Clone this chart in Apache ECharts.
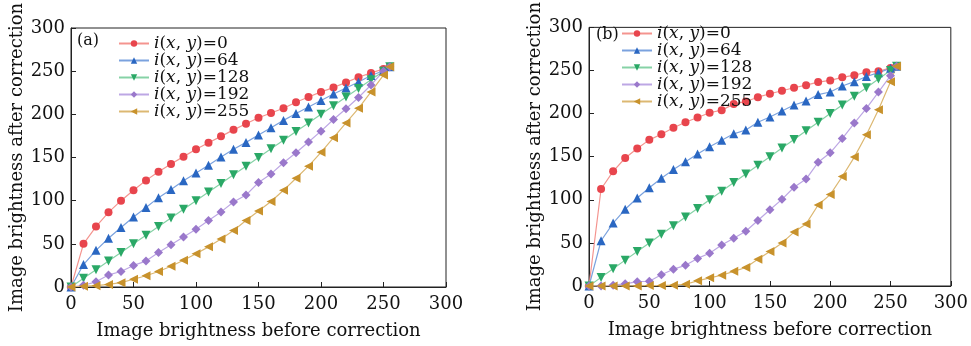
<!DOCTYPE html>
<html>
<head>
<meta charset="utf-8">
<script src="https://cdn.jsdelivr.net/npm/echarts@6/dist/echarts.min.js"></script>
<style>
  html, body { margin: 0; padding: 0; background: #fff; }
  #chart { width: 971px; height: 346px; }
</style>
</head>
<body>
<div id="chart"></div>
<script>
const xVals = [0, 10, 20, 30, 40, 50, 60, 70, 80, 90, 100, 110, 120, 130, 140, 150, 160, 170, 180, 190, 200, 210, 220, 230, 240, 250, 255]
const names = ['i(x, y)=0', 'i(x, y)=64', 'i(x, y)=128', 'i(x, y)=192', 'i(x, y)=255']

// panel (a)
const aRed = [0, 50, 70, 86.5, 100, 112, 123.5, 133.5, 142.5, 151, 159.5, 167, 174.5, 182, 189, 196, 201.5, 207, 214, 220, 226, 231, 237, 243, 248, 252.5, 255]
const aBlue = [0, 26, 42.5, 56.5, 69, 81, 92, 103.5, 113, 123, 132, 141, 150.5, 159.5, 167.5, 176, 184.5, 193, 201, 208.5, 216, 223.5, 230.5, 237.5, 245, 250.5, 255]
const aGreen = [0, 10, 20, 30, 40, 50, 60, 70, 80, 90, 100, 110, 120, 130, 140, 150, 160, 170, 180, 190, 200, 210, 220, 230, 240, 250, 255]
const aPurple = [0, 2, 6, 14, 18, 25, 30, 40, 49, 58, 67, 77, 87, 98.5, 106.5, 121, 131, 144, 155.5, 168, 180.5, 194, 206.5, 219.5, 234, 250, 255]
const aGold = [0, 1, 1.5, 3, 5, 9, 13, 18, 24, 31, 38.5, 46.5, 55.5, 65.5, 77, 88, 99, 112, 126, 140, 156, 173, 190, 207, 226, 245.5, 255]

// panel (b)
const bRed = [0, 112.5, 133, 148.5, 159.5, 169.5, 176, 183.5, 190, 195.5, 201, 204, 211, 214, 219, 223, 226.5, 230, 233, 236.5, 238.5, 242, 244.5, 248, 249, 253, 255]
const bBlue = [0, 52.5, 73, 89, 102, 114, 125, 135, 144, 153, 161.5, 169, 176.5, 181, 190, 196, 203, 210, 214.5, 222, 225, 232, 237, 243, 247.5, 252.5, 255]
const bGreen = [0, 10, 20, 30, 40, 50, 60, 70, 80, 90, 100, 110, 120, 130, 140, 150, 160, 170, 180, 190, 200, 210, 220, 230, 240, 250, 255]
const bPurple = [0, 0, 1, 2.5, 5, 5.5, 13, 19.5, 24, 32, 38, 47.5, 55.5, 63.5, 76, 88.5, 100.5, 114.5, 124, 143.5, 154.5, 171, 189, 206, 225, 244, 255]
const bGold = [0, 0, 0, 0, 0, 0.5, 0.5, 1, 2, 6, 9.5, 12.5, 17, 21.5, 31, 40, 50, 62.5, 72, 94, 106, 127, 149.5, 175.5, 204.5, 237, 255]

const markerColors = ['#e8454d', '#2a67c2', '#2aa866', '#9a78cb', '#c8922c']
const lineColors = ['#f4948f', '#7ba2de', '#86d2a6', '#bda7e4', '#dcb872']
const symbols = ['circle', 'triangle', 'triangle', 'diamond', 'triangle']
const rotates = [0, 0, 180, 0, 90]
const sizes = [8, 9, 9, 9, 9]

const font = 'DejaVu Serif'

const zip = ys => xVals.map((x, i) => [x, ys[i]])

function makeSeries(sets, idx) {
  return sets.map((ys, k) => ({
    name: names[k],
    type: 'line',
    xAxisIndex: idx,
    yAxisIndex: idx,
    data: zip(ys),
    symbol: symbols[k],
    symbolRotate: rotates[k],
    symbolSize: sizes[k],
    itemStyle: { color: markerColors[k] },
    lineStyle: { color: lineColors[k], width: 1.2 },
    animation: false
  }))
}

function xAxis(idx) {
  return {
    type: 'value', gridIndex: idx, min: 0, max: 300, interval: 50,
    name: 'Image brightness before correction', nameLocation: 'middle', nameGap: 35,
    nameTextStyle: { fontFamily: font, fontSize: 18, color: '#111' },
    axisLine: { lineStyle: { color: '#222', width: 1 } },
    axisTick: { inside: true, length: 5, lineStyle: { color: '#222' } },
    axisLabel: { fontFamily: font, fontSize: 18, color: '#111', margin: 8 },
    splitLine: { show: false }
  }
}

function yAxis(idx, gap) {
  return {
    type: 'value', gridIndex: idx, min: 0, max: 300, interval: 50,
    name: 'Image brightness after correction', nameLocation: 'middle', nameGap: gap,
    nameTextStyle: { fontFamily: font, fontSize: 18, color: '#111' },
    axisLine: { lineStyle: { color: '#222', width: 1 } },
    axisTick: { inside: true, length: 5, lineStyle: { color: '#222' } },
    axisLabel: { fontFamily: font, fontSize: 18, color: '#111', margin: 6 },
    splitLine: { show: false }
  }
}

const rich = {
  it: { fontFamily: font, fontStyle: 'italic', fontSize: 17, color: '#111' },
  n: { fontFamily: font, fontSize: 17, color: '#111' }
}
function legendText(name) {
  const v = name.split('=')[1]
  return '{it|i}{n|(}{it|x}{n|, }{it|y}{n|)=' + v + '}'
}

function legend(left, top) {
  return {
    data: names, left: left, top: top, orient: 'vertical',
    itemWidth: 30, itemHeight: 8, itemGap: 0, padding: 0,
    textStyle: { rich: rich, lineHeight: 15 },
    formatter: legendText
  }
}

const option = {
  backgroundColor: '#fff',
  animation: false,
  grid: [
    { left: 71, right: 525, top: 28, bottom: 59, show: true, borderColor: '#222', borderWidth: 1 },
    { left: 589, right: 19, top: 22, bottom: 60, show: true, borderColor: '#222', borderWidth: 1 }
  ],
  xAxis: [xAxis(0), xAxis(1)],
  yAxis: [yAxis(0, 45), yAxis(1, 43)],
  legend: [legend(118, 35), legend(621, 25)],
  graphic: [
    { type: 'text', left: 77, top: 33, style: { text: '(a)', font: '16px "DejaVu Serif"', fill: '#111' } },
    { type: 'text', left: 596, top: 27, style: { text: '(b)', font: '16px "DejaVu Serif"', fill: '#111' } }
  ],
  series: [
    ...makeSeries([aRed, aBlue, aGreen, aPurple, aGold], 0),
    ...makeSeries([bRed, bBlue, bGreen, bPurple, bGold], 1)
  ]
}

const myChart = echarts.init(document.getElementById('chart'))
myChart.setOption(option)
</script>
</body>
</html>
